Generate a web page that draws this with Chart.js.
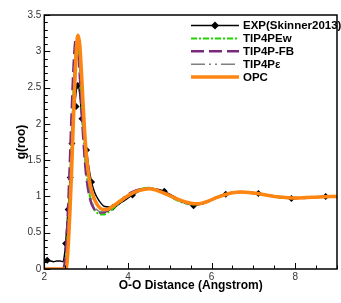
<!DOCTYPE html>
<html>
<head>
<meta charset="utf-8">
<script src="https://cdn.jsdelivr.net/npm/chart.js@4/dist/chart.umd.min.js"></script>
<style>
  html, body { margin: 0; padding: 0; background: #fff; }
  #chart { display: block; }
</style>
</head>
<body>
<canvas id="chart" width="341" height="303"></canvas>
<script>
// Nhãn trục
const xTicks = [2, 4, 6, 8];
const yTicks = [0, 0.5, 1, 1.5, 2, 2.5, 3, 3.5];

// EXP (Skinner 2013) - đường liền
const expR = [2.0, 2.07, 2.15, 2.22, 2.3, 2.38, 2.45, 2.48, 2.51, 2.54, 2.57, 2.62, 2.66, 2.72, 2.77, 2.8, 2.85, 2.9, 2.95, 3.01, 3.07, 3.13, 3.2, 3.3, 3.45, 3.64, 3.85, 4.11, 4.3, 4.5, 4.7, 4.87, 5.1, 5.35, 5.57, 5.8, 6.05, 6.34, 6.6, 6.85, 7.12, 7.4, 7.65, 7.91, 8.2, 8.45, 8.73, 9.0];
const expG = [0.12, 0.12, 0.11, 0.1, 0.11, 0.11, 0.1, 0.18, 0.35, 0.6, 0.82, 1.26, 1.73, 2.2, 2.48, 2.55, 2.4, 2.07, 1.83, 1.63, 1.38, 1.2, 1.06, 0.95, 0.86, 0.85, 0.92, 1.02, 1.08, 1.1, 1.1, 1.07, 1.0, 0.92, 0.88, 0.9, 0.96, 1.03, 1.06, 1.06, 1.04, 1.01, 0.98, 0.97, 0.98, 0.99, 1.0, 1.0];
// EXP - các điểm đánh dấu
const expMarkR = [2.07, 2.51, 2.57, 2.62, 2.66, 2.76, 2.8, 2.9, 3.01, 3.13, 3.64, 4.11, 4.87, 5.57, 6.34, 7.12, 7.91, 8.73];
const expMarkG = [0.12, 0.35, 0.82, 1.26, 1.73, 2.24, 2.53, 2.07, 1.64, 1.2, 0.85, 1.02, 1.07, 0.87, 1.03, 1.04, 0.97, 1.0];

// TIP4PEw
const ewR = [2.0, 2.46, 2.5, 2.55, 2.6, 2.65, 2.7, 2.75, 2.78, 2.82, 2.86, 2.9, 2.95, 3.0, 3.1, 3.2, 3.3, 3.4, 3.5, 3.7, 3.9, 4.1, 4.3, 4.45, 4.6, 4.8, 5.0, 5.2, 5.4, 5.6, 5.8, 6.0, 6.2, 6.4, 6.6, 6.8, 7.0, 7.2, 7.4, 7.6, 7.8, 8.0, 8.3, 8.6, 9.0];
const ewG = [0, 0, 0.05, 0.4, 1.0, 1.75, 2.5, 2.98, 3.1, 3.02, 2.65, 2.2, 1.72, 1.35, 0.98, 0.82, 0.76, 0.75, 0.77, 0.86, 0.96, 1.05, 1.1, 1.12, 1.11, 1.06, 1.0, 0.94, 0.9, 0.89, 0.91, 0.96, 1.01, 1.04, 1.06, 1.06, 1.05, 1.03, 1.01, 0.99, 0.98, 0.98, 0.985, 0.995, 1.0];

// TIP4P-FB
const fbR = [2.0, 2.45, 2.5, 2.55, 2.6, 2.65, 2.7, 2.75, 2.77, 2.8, 2.85, 2.9, 2.95, 3.0, 3.1, 3.2, 3.3, 3.4, 3.5, 3.7, 3.9, 4.1, 4.3, 4.5, 4.7, 4.9, 5.1, 5.3, 5.5, 5.7, 5.9, 6.1, 6.3, 6.5, 6.7, 6.9, 7.1, 7.3, 7.5, 7.7, 7.9, 8.2, 8.5, 8.8, 9.0];
const fbG = [0, 0, 0.15, 0.6, 1.3, 2.1, 2.8, 3.18, 3.2, 3.1, 2.65, 2.1, 1.65, 1.3, 0.95, 0.82, 0.78, 0.78, 0.8, 0.88, 0.98, 1.06, 1.1, 1.11, 1.09, 1.04, 0.98, 0.93, 0.9, 0.9, 0.93, 0.98, 1.02, 1.05, 1.06, 1.055, 1.04, 1.02, 1.0, 0.99, 0.98, 0.98, 0.99, 1.0, 1.0];

// TIP4Pε
const epsR = [2.0, 2.47, 2.52, 2.57, 2.62, 2.67, 2.72, 2.76, 2.79, 2.83, 2.88, 2.93, 2.98, 3.05, 3.15, 3.25, 3.35, 3.45, 3.6, 3.8, 4.0, 4.2, 4.4, 4.6, 4.8, 5.0, 5.2, 5.4, 5.6, 5.8, 6.0, 6.2, 6.4, 6.6, 6.8, 7.0, 7.2, 7.4, 7.6, 7.8, 8.0, 8.3, 8.6, 9.0];
const epsG = [0, 0, 0.1, 0.6, 1.3, 2.1, 2.8, 3.12, 3.15, 2.95, 2.45, 1.95, 1.55, 1.2, 0.92, 0.82, 0.79, 0.8, 0.84, 0.92, 1.01, 1.07, 1.1, 1.1, 1.06, 1.0, 0.95, 0.91, 0.89, 0.91, 0.96, 1.01, 1.04, 1.055, 1.06, 1.05, 1.03, 1.01, 0.99, 0.98, 0.98, 0.985, 0.995, 1.0];

// OPC
const opcR = [2.0, 2.5, 2.53, 2.57, 2.61, 2.65, 2.69, 2.73, 2.77, 2.81, 2.85, 2.89, 2.93, 2.97, 3.01, 3.06, 3.12, 3.2, 3.3, 3.4, 3.5, 3.6, 3.8, 4.0, 4.2, 4.4, 4.5, 4.6, 4.8, 5.0, 5.2, 5.4, 5.6, 5.7, 5.9, 6.1, 6.3, 6.5, 6.7, 6.9, 7.1, 7.3, 7.5, 7.7, 7.9, 8.1, 8.4, 8.7, 9.0];
const opcG = [0, 0, 0.02, 0.3, 0.75, 1.3, 1.95, 2.55, 3.05, 3.22, 3.08, 2.7, 2.25, 1.85, 1.55, 1.3, 1.1, 0.96, 0.86, 0.82, 0.82, 0.85, 0.93, 1.01, 1.07, 1.1, 1.105, 1.1, 1.06, 1.01, 0.96, 0.92, 0.9, 0.9, 0.93, 0.98, 1.02, 1.05, 1.06, 1.055, 1.04, 1.02, 1.0, 0.99, 0.98, 0.98, 0.99, 0.995, 1.0];

function pts(xs, ys) {
    return xs.map((v, i) => ({ x: v, y: ys[i] }));
}

const FONT = '"Liberation Sans", Arial, sans-serif';

// Khung và vạch chia hướng vào trong
const frameTicks = {
    id: 'frameTicks',
    afterDatasetsDraw(chart) {
        const { ctx, chartArea: a, scales: { x, y } } = chart;
        ctx.save();
        ctx.strokeStyle = '#000';
        ctx.lineWidth = 1;
        ctx.beginPath();
        for (let i = 0; i <= 35; i++) {
            const py = Math.round(y.getPixelForValue(i / 10)) + 0.5;
            const len = i % 5 === 0 ? 6 : 3.5;
            ctx.moveTo(a.left, py);
            ctx.lineTo(a.left + len, py);
        }
        for (let i = 4; i <= 18; i++) {
            const px = Math.round(x.getPixelForValue(i / 2)) + 0.5;
            const len = i % 4 === 0 ? 6 : 3.5;
            ctx.moveTo(px, a.bottom);
            ctx.lineTo(px, a.bottom - len);
        }
        ctx.stroke();
        ctx.lineWidth = 1.5;
        ctx.strokeRect(a.left, a.top, a.right - a.left, a.bottom - a.top);
        ctx.restore();
    }
};

// Chú thích tự vẽ
const legendBox = {
    id: 'legendBox',
    afterDraw(chart) {
        const ctx = chart.ctx;
        const x0 = 191, x1 = 239, tx = 243;
        let yy = 25.5;
        ctx.save();
        ctx.font = 'bold 11.5px ' + FONT;
        ctx.textBaseline = 'middle';
        ctx.fillStyle = '#000';
        chart.data.datasets.forEach(ds => {
            if (!ds.label) return;
            ctx.strokeStyle = ds.borderColor;
            ctx.lineWidth = ds.borderWidth;
            ctx.setLineDash(ds.borderDash || []);
            ctx.beginPath();
            ctx.moveTo(x0, yy);
            ctx.lineTo(x1, yy);
            ctx.stroke();
            ctx.setLineDash([]);
            if (ds.legendMarker) {
                ctx.beginPath();
                ctx.moveTo(215, yy - 4);
                ctx.lineTo(219, yy);
                ctx.lineTo(215, yy + 4);
                ctx.lineTo(211, yy);
                ctx.closePath();
                ctx.fill();
            }
            ctx.fillText(ds.label, tx, yy + 0.5);
            yy += 12.9;
        });
        ctx.restore();
    }
};

const ctx = document.getElementById('chart').getContext('2d');
const chart = new Chart(ctx, {
    type: 'line',
    data: {
        datasets: [
            {
                label: 'EXP(Skinner2013)',
                data: pts(expR, expG),
                borderColor: '#000',
                borderWidth: 1.5,
                pointRadius: 0,
                legendMarker: true,
                order: 5
            },
            {
                label: '',
                type: 'scatter',
                data: pts(expMarkR, expMarkG),
                showLine: false,
                pointStyle: 'rectRot',
                pointRadius: 3.5,
                backgroundColor: '#000',
                borderColor: '#000',
                borderWidth: 0,
                order: 4
            },
            {
                label: 'TIP4PEw',
                data: pts(ewR, ewG),
                borderColor: '#22d400',
                borderWidth: 2,
                borderDash: [6, 2, 2, 2],
                pointRadius: 0,
                order: 3
            },
            {
                label: 'TIP4P-FB',
                data: pts(fbR, fbG),
                borderColor: '#7a2a7c',
                borderWidth: 2.5,
                borderDash: [13, 5],
                pointRadius: 0,
                order: 2
            },
            {
                label: 'TIP4Pε',
                data: pts(epsR, epsG),
                borderColor: '#7f7f7f',
                borderWidth: 1.5,
                borderDash: [14, 4, 2, 4, 2, 4],
                pointRadius: 0,
                order: 1
            },
            {
                label: 'OPC',
                data: pts(opcR, opcG),
                borderColor: '#ff8512',
                borderWidth: 3.5,
                pointRadius: 0,
                order: 0
            }
        ]
    },
    options: {
        responsive: false,
        animation: false,
        devicePixelRatio: 1,
        layout: { padding: { top: 15, right: 1, left: 0, bottom: 0 } },
        plugins: {
            legend: { display: false },
            tooltip: { enabled: false }
        },
        elements: {
            line: { cubicInterpolationMode: 'monotone', fill: false }
        },
        scales: {
            x: {
                type: 'linear',
                min: 2,
                max: 9,
                afterBuildTicks: s => { s.ticks = xTicks.map(v => ({ value: v })); },
                afterFit: s => { s.height = 34; },
                grid: { display: false, drawTicks: false },
                border: { display: false },
                ticks: {
                    padding: 2,
                    color: '#333',
                    font: { family: FONT, size: 10 },
                    maxRotation: 0,
                    callback: v => String(v)
                },
                title: {
                    display: true,
                    text: 'O-O Distance (Angstrom)',
                    color: '#000',
                    font: { family: FONT, size: 12, weight: 'bold' },
                    padding: { top: 0, bottom: 10 }
                }
            },
            y: {
                type: 'linear',
                min: 0,
                max: 3.5,
                afterBuildTicks: s => { s.ticks = yTicks.map(v => ({ value: v })); },
                afterFit: s => { s.width = 44.3; },
                grid: { display: false, drawTicks: false },
                border: { display: false },
                ticks: {
                    padding: 3,
                    color: '#333',
                    font: { family: FONT, size: 10 },
                    callback: v => String(v)
                },
                title: {
                    display: true,
                    text: 'g(roo)',
                    color: '#000',
                    font: { family: FONT, size: 12, weight: 'bold' },
                    padding: { top: 14, bottom: 0 }
                }
            }
        }
    },
    plugins: [frameTicks, legendBox]
});
</script>
</body>
</html>
